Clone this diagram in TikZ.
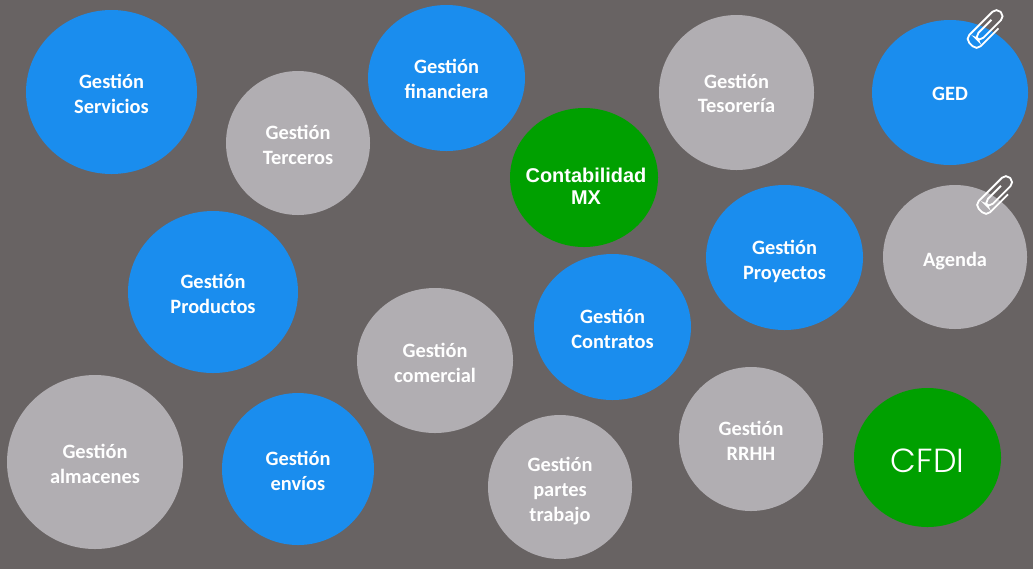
\documentclass[tikz,border=0pt]{standalone}
\usepackage{fontspec}
\setmainfont{Carlito}
\newfontfamily\contafont{Liberation Sans}
\newfontfamily\cfdifont{Poppins Light}
\usetikzlibrary{shapes.geometric}
\definecolor{fondo}{HTML}{686363}
\definecolor{azul}{HTML}{1A8DEE}
\definecolor{gris}{HTML}{B1AEB2}
\definecolor{verde}{HTML}{00A000}

\begin{document}
\begin{tikzpicture}[
    x=0.02cm, y=-0.02cm,
    drop/.code={\def\bubbledrop{#1}},
    bubble/.style 2 args={ellipse, inner sep=-12pt, minimum width=#1*0.02cm, minimum height=#2*0.02cm, text=white, align=center, font=\fontsize{11.6}{14.2}\selectfont\bfseries, drop=24.6pt, execute at begin node={\rule{0pt}{\bubbledrop}}},
    modblue/.style={fill=azul},
    modgrey/.style={fill=gris},
    modgreen/.style={fill=verde},
    clipwire/.style={draw=white, line width=1.05pt, rounded corners=3.2pt},
    paperclip/.pic={
      \draw[clipwire, rotate=45] (9,8) -- (-22,8) -- (-22,-8) -- (22,-8) -- (22,4) -- (-14,4) -- (-14,-3) -- (10,-3);
    },
]

\fill[fondo] (0,0) rectangle (1033,569);

% Blue modules
\node[bubble={171}{164}, modblue] (servicios) at (111.5,92) {Gestión\\Servicios};
\node[bubble={157}{146}, modblue, drop=23.4pt] (financiera) at (446.5,78) {Gestión\\financiera};
\node[bubble={156}{145}, modblue, drop=9.3pt] (ged) at (950,92.5) {GED};
\node[bubble={157}{145}, modblue, drop=26.8pt] (proyectos) at (784.5,257.5) {Gestión\\Proyectos};
\node[bubble={170}{162}, modblue] (productos) at (213,292) {Gestión\\Productos};
\node[bubble={157}{146}, modblue] (contratos) at (612.5,327) {Gestión\\Contratos};
\node[bubble={152}{152}, modblue] (envios) at (298,469) {Gestión\\envíos};

% Grey modules
\node[bubble={144}{144}, modgrey, drop=24pt] (terceros) at (298,143) {Gestión\\Terceros};
\node[bubble={155}{155}, modgrey, drop=23.4pt] (tesoreria) at (736.5,92.5) {Gestión\\Tesorería};
\node[bubble={144}{144}, modgrey, drop=12.5pt] (agenda) at (955,257) {Agenda};
\node[bubble={156}{145}, modgrey] (comercial) at (435,360.5) {Gestión\\comercial};
\node[bubble={144}{144}, modgrey, drop=24pt] (rrhh) at (751,439) {Gestión\\RRHH};
\node[bubble={176}{174}, modgrey] (almacenes) at (95,462) {Gestión\\almacenes};
\node[bubble={144}{144}, modgrey, drop=41pt] (partes) at (560,487) {Gestión\\partes\\trabajo};

% Green modules
\node[bubble={148}{139}, modgreen, font=\contafont\fontsize{11.35}{12.5}\selectfont\bfseries, drop=30.9pt, execute at begin node={\hspace*{2.3pt}}] (contabilidad) at (584,177.5) {Contabilidad\\MX};
\node[bubble={147}{139}, modgreen, font=\cfdifont\fontsize{19}{22}\selectfont, drop=17pt] (cfdi) at (927.5,457.5) {CFDI};

% Paperclips
\pic at (986.5,29) {paperclip};
\pic at (996,195) {paperclip};

\end{tikzpicture}
\end{document}
